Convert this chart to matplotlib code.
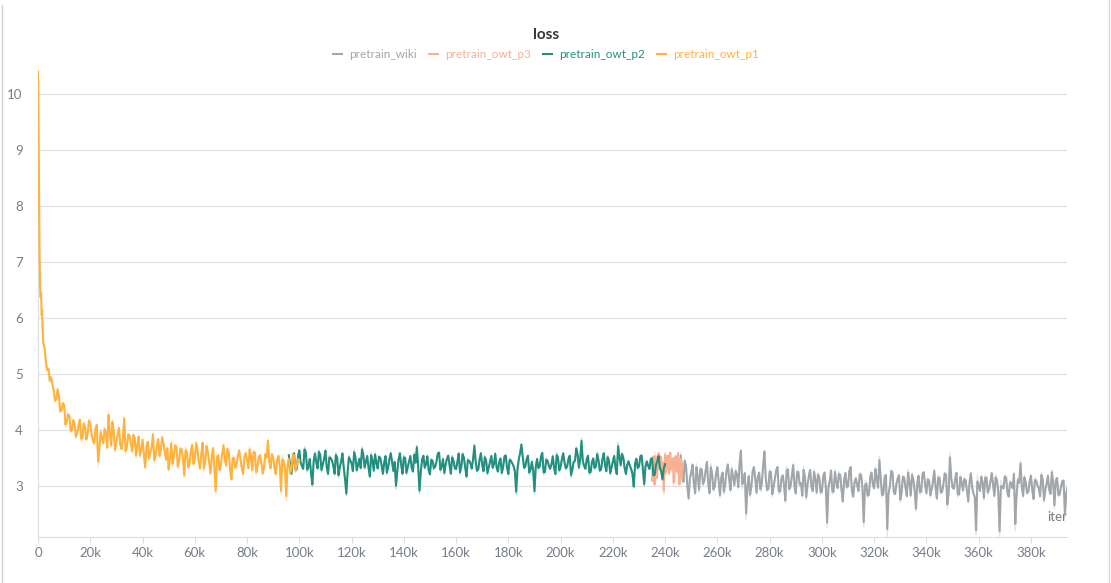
import numpy as np
import matplotlib
matplotlib.use("Agg")
from matplotlib import pyplot as plt

plt.rcParams['font.family'] = ['Lato', 'DejaVu Sans']

# pretrain_owt_p1: fine detail at the start, then logged every 500 iters
p1_early_iter = [0, 200, 400, 600, 800, 1000, 1200, 1400, 1600, 1800, 2000, 2500, 3000, 3500, 4000, 4500]
p1_early_loss = [10.4, 9.3, 8.2, 7.0, 6.5, 6.35, 6.45, 6.0, 6.15, 5.7, 5.55, 5.45, 5.2, 5.05, 5.1, 4.85]
# values at 5k, 6k, ... 100k
p1_loss = [4.95, 4.7, 4.55, 4.6, 4.35, 4.45, 4.15, 4.25, 4.0, 4.1,
           3.95, 4.2, 3.85, 4.05, 3.95, 4.1, 3.8, 4.05, 3.35, 4.0,
           3.75, 3.95, 4.35, 3.7, 3.95, 3.8, 4.05, 3.65, 4.25, 3.7,
           3.9, 3.6, 3.85, 3.75, 3.5, 3.85, 3.3, 3.8, 3.6, 3.95,
           3.55, 3.85, 3.65, 3.75, 3.45, 3.25, 3.8, 3.55, 3.7, 3.45,
           3.65, 3.15, 3.6, 3.4, 3.75, 3.5, 3.65, 3.3, 3.8, 3.45,
           3.6, 3.2, 3.7, 2.85, 3.55, 3.4, 3.75, 3.35, 3.6, 3.1,
           3.5, 3.4, 3.65, 3.3, 3.55, 3.45, 3.7, 3.25, 3.6, 3.35,
           3.55, 3.2, 3.6, 3.85, 3.3, 3.5, 3.2, 3.55, 2.85, 3.45,
           2.75, 3.5, 3.3, 3.55, 3.35, 3.45]
# values at 5.5k, 6.5k, ... 99.5k
p1_loss_mid = [4.8, 4.5, 4.75, 4.3, 4.5, 4.05, 4.3, 3.95, 4.2, 3.85,
               4.1, 3.8, 4.15, 3.8, 4.2, 3.9, 3.75, 4.1, 3.7, 3.85,
               4.05, 3.65, 3.9, 4.2, 3.6, 3.95, 3.7, 3.9, 3.55, 3.95,
               3.75, 3.95, 3.5, 3.9, 3.65, 3.55, 3.75, 3.45, 3.7, 3.4,
               3.75, 3.5, 3.9, 3.6, 3.7, 3.5, 3.35, 3.75, 3.3, 3.7,
               3.45, 3.7, 3.3, 3.65, 3.35, 3.8, 3.4, 3.6, 3.25, 3.75,
               3.4, 3.55, 3.3, 3.6, 3.25, 3.6, 3.45, 3.7, 3.25, 3.55,
               3.3, 3.55, 3.45, 3.2, 3.6, 3.3, 3.5, 3.65, 3.2, 3.55,
               3.4, 3.35, 3.5, 3.4, 3.6, 3.3, 3.5, 3.35, 3.55, 3.3,
               3.45, 3.2, 3.6, 3.25, 3.5]

# pretrain_owt_p2: 96k .. 240k
p2_loss = [3.55, 3.2, 3.6, 3.3, 3.65, 3.35, 3.7, 3.25, 3.5, 3.0,
           3.6, 3.3, 3.55, 3.4, 3.65, 3.2, 3.5, 3.35, 3.6, 3.15,
           3.45, 3.3, 2.83, 3.55, 3.4, 3.65, 3.25, 3.5, 3.7, 3.3,
           3.55, 3.15, 3.45, 3.6, 3.3, 3.5, 3.2, 3.55, 3.35, 3.6,
           3.25, 2.95, 3.5, 3.35, 3.55, 3.2, 3.45, 3.3, 3.6, 3.73,
           2.86, 3.5, 3.3, 3.55, 3.2, 3.45, 3.35, 3.6, 3.25, 3.5,
           3.4, 3.55, 3.2, 3.45, 3.3, 3.6, 3.35, 3.5, 3.15, 3.45,
           3.3, 3.75, 3.25, 3.5, 3.35, 3.55, 3.2, 3.45, 3.3, 3.6,
           3.25, 3.5, 3.35, 3.55, 3.2, 3.45, 3.35, 2.85, 3.5, 3.76,
           3.3, 3.5, 3.2, 3.45, 2.86, 3.5, 3.35, 3.6, 3.25, 3.45,
           3.3, 3.55, 3.2, 3.5, 3.35, 3.6, 3.3, 3.5, 3.15, 3.45,
           3.7, 3.3, 3.85, 3.35, 3.5, 3.2, 3.45, 3.3, 3.6, 3.25,
           3.5, 3.35, 3.55, 3.2, 3.45, 3.3, 3.78, 3.35, 3.5, 3.2,
           3.45, 3.3, 2.96, 3.5, 3.35, 3.55, 3.0, 3.45, 3.3, 3.5,
           3.2, 3.45, 3.3, 3.1, 3.4]
# 96.5k .. 239.5k
p2_loss_mid = [3.35, 3.5, 3.25, 3.55, 3.4, 3.3, 3.6, 3.35, 3.2, 3.5,
               3.4, 3.65, 3.25, 3.5, 3.3, 3.55, 3.45, 3.2, 3.5, 3.35,
               3.6, 3.1, 3.3, 3.45, 3.25, 3.5, 3.4, 3.3, 3.55, 3.45,
               3.3, 3.6, 3.25, 3.4, 3.55, 3.35, 3.45, 3.2, 3.5, 3.4,
               3.45, 3.3, 3.6, 3.2, 3.5, 3.35, 3.55, 3.25, 3.4, 3.3,
               3.3, 3.55, 3.4, 3.25, 3.5, 3.3, 3.45, 3.6, 3.35, 3.2,
               3.5, 3.35, 3.55, 3.3, 3.45, 3.2, 3.6, 3.3, 3.5, 3.4,
               3.5, 3.4, 3.3, 3.6, 3.25, 3.45, 3.35, 3.55, 3.4, 3.3,
               3.45, 3.2, 3.55, 3.3, 3.5, 3.4, 3.25, 3.35, 3.6, 3.5,
               3.35, 3.55, 3.3, 3.25, 3.4, 3.3, 3.55, 3.2, 3.5, 3.35,
               3.4, 3.3, 3.6, 3.25, 3.5, 3.4, 3.35, 3.55, 3.3, 3.45,
               3.55, 3.5, 3.4, 3.3, 3.55, 3.25, 3.5, 3.35, 3.45, 3.3,
               3.6, 3.25, 3.45, 3.35, 3.55, 3.2, 3.5, 3.6, 3.3, 3.4,
               3.35, 3.2, 3.45, 3.3, 3.55, 3.25, 3.4, 3.35, 3.5, 3.15,
               3.4, 3.55, 3.25, 3.35]

# pretrain_owt_p3: 235k .. 246.5k every 500, and the 250-offset values
p3_loss = [3.1, 3.55, 3.0, 3.45, 3.2, 3.6, 3.3, 3.5, 3.15, 2.85,
           3.6, 3.3, 3.55, 3.2, 3.6, 3.35, 3.5, 3.1, 3.55, 3.25,
           3.6, 3.0, 3.5, 3.3]
p3_loss_mid = [3.4, 3.2, 3.6, 3.1, 3.5, 3.3, 3.55, 3.2, 3.45, 3.35,
               3.2, 3.5, 3.4, 3.6, 3.25, 3.5, 3.0, 3.45, 3.3, 3.55,
               3.2, 3.45, 3.1, 3.4]

# pretrain_wiki: 245k .. 394k
wiki_loss = [3.3, 3.6, 3.05, 3.35, 2.75, 3.25, 3.0, 3.4, 2.9, 3.3,
             3.1, 3.45, 2.85, 3.2, 3.0, 3.35, 2.8, 3.25, 3.05, 3.4,
             2.9, 3.15, 3.3, 2.95, 3.66, 3.1, 2.41, 3.2, 3.0, 3.35,
             2.85, 3.25, 3.05, 3.65, 2.9, 3.3, 2.8, 3.15, 3.35, 2.9,
             3.2, 2.7, 3.3, 3.0, 3.4, 2.85, 3.25, 3.05, 3.35, 2.75,
             3.2, 2.95, 3.3, 2.85, 3.15, 2.9, 3.25, 2.26, 3.1, 2.85,
             3.3, 2.95, 3.2, 2.7, 3.25, 3.0, 3.35, 2.8, 3.15, 2.9,
             3.2, 2.27, 3.05, 2.85, 3.25, 2.95, 3.1, 3.53, 2.8, 3.2,
             2.1, 3.0, 3.25, 2.85, 3.15, 2.7, 3.2, 2.95, 3.3, 2.8,
             3.1, 2.55, 3.2, 2.9, 3.25, 2.85, 3.1, 2.95, 3.3, 2.75,
             3.15, 2.9, 3.25, 2.6, 3.6, 2.95, 3.15, 2.8, 3.2, 2.9,
             3.1, 2.7, 3.25, 2.85, 2.13, 3.0, 3.2, 2.75, 3.15, 2.95,
             3.25, 2.8, 3.1, 2.1, 3.0, 3.2, 2.85, 3.1, 2.95, 2.2,
             3.15, 3.45, 2.8, 3.05, 2.9, 3.2, 2.75, 3.1, 2.95, 3.25,
             2.7, 3.05, 2.9, 3.3, 2.6, 3.15, 2.85, 3.1, 2.42, 3.0]
# 245.5k .. 393.5k
wiki_loss_mid = [3.1, 3.25, 3.5, 2.95, 3.2, 3.4, 2.85, 3.15, 3.35, 3.0,
                 3.3, 3.0, 3.4, 2.9, 3.25, 3.05, 3.2, 2.85, 3.3, 3.1,
                 3.35, 3.0, 3.2, 3.45, 2.95, 3.25, 3.05, 2.8, 3.3, 3.1,
                 3.2, 2.9, 3.4, 3.1, 2.95, 3.25, 3.0, 3.3, 2.85, 3.15,
                 3.0, 3.35, 2.9, 3.2, 2.95, 3.3, 3.0, 2.8, 3.15, 3.05,
                 3.3, 2.9, 3.1, 3.25, 2.85, 3.2, 2.95, 3.05, 3.3, 2.9,
                 3.05, 3.25, 2.9, 3.15, 2.95, 3.3, 2.85, 3.1, 3.0, 3.25,
                 2.95, 3.1, 2.8, 3.2, 3.0, 3.35, 2.95, 3.1, 2.85, 3.2,
                 2.95, 3.3, 2.85, 3.05, 3.2, 2.9, 3.15, 2.8, 3.05, 3.25,
                 2.9, 3.1, 2.85, 3.25, 3.0, 3.15, 2.8, 3.1, 2.95, 3.2,
                 2.85, 3.05, 3.2, 2.9, 3.1, 2.95, 3.25, 2.85, 3.05, 3.15,
                 2.9, 3.1, 2.95, 2.8, 3.2, 2.9, 3.05, 3.2, 2.85, 3.1,
                 3.0, 3.2, 2.85, 3.1, 2.95, 3.15, 2.8, 3.05, 3.25, 2.9,
                 3.05, 2.95, 3.2, 2.85, 3.1, 2.9, 3.15, 3.0, 2.8, 3.1,
                 2.95, 3.2, 2.85, 3.05, 3.15, 2.8, 3.0, 3.1, 2.9]


def interleave(a, b):
    out = np.empty(len(a) + len(b))
    out[0::2] = a
    out[1::2] = b
    return out


def ema(vals, w):
    # wandb-like exponential smoothing
    out = []
    last = vals[0]
    for v in vals:
        last = last * w + (1 - w) * v
        out.append(last)
    return np.array(out)


p1_iter = np.concatenate([p1_early_iter, np.arange(5000, 100001, 500)])
p1_vals = np.concatenate([p1_early_loss, interleave(p1_loss, p1_loss_mid)])
p2_iter = np.arange(96000, 240001, 500)
p3_iter = np.arange(235000, 247000, 250)
wiki_iter = np.arange(245000, 394001, 500)

runs = [
    ("pretrain_wiki", wiki_iter, interleave(wiki_loss, wiki_loss_mid), "#a1a6ab"),
    ("pretrain_owt_p3", p3_iter, interleave(p3_loss, p3_loss_mid), "#f9b092"),
    ("pretrain_owt_p2", p2_iter, interleave(p2_loss, p2_loss_mid), "#23907f"),
    ("pretrain_owt_p1", p1_iter, p1_vals, "#ffb23e"),
]

fig = plt.figure(figsize=(11.11, 5.83), dpi=100)
ax = fig.add_axes([38 / 1111, 46 / 583, 1029 / 1111, 467 / 583])

for z, (name, it, loss, col) in enumerate(runs):
    ax.plot(it, loss, color=col, alpha=0.3, lw=1.0, zorder=2 + z)
    ax.plot(it, ema(loss, 0.12), color=col, lw=1.5, zorder=6 + z, label=name)

ax.set_xlim(0, 393800)
ax.set_ylim(2.09, 10.43)
ax.set_yticks(range(3, 11))
ax.set_xticks(np.arange(0, 380001, 20000))
ax.set_xticklabels(["0"] + ["%dk" % (v // 1000) for v in range(20000, 380001, 20000)])
ax.grid(axis='y', color='#e2e2e2', lw=0.9)
ax.set_axisbelow(True)
for s in ['top', 'right']:
    ax.spines[s].set_visible(False)
for s in ['left', 'bottom']:
    ax.spines[s].set_color('#dcdcdc')
ax.tick_params(axis='x', colors='#dcdcdc', labelcolor='#767d87', labelsize=9.5, length=4, pad=3)
ax.tick_params(axis='y', length=0, labelcolor='#767d87', labelsize=9.5, pad=11)
ax.text(1.0, 0.03, "iter", transform=ax.transAxes, ha='right', va='bottom',
        color='#767d87', fontsize=9.5)

fig.text(546 / 1111, 1 - 35 / 583, "loss", ha='center', va='center',
         fontsize=11, fontweight='bold', color='#333333')
fig.legend(loc='center', bbox_to_anchor=(546 / 1111, 1 - 55 / 583), ncol=4,
           frameon=False, handlelength=0.8, handletextpad=0.6, columnspacing=1.0,
           fontsize=8.5, labelcolor='linecolor')

# card border
fig.add_artist(plt.Line2D([1.5 / 1111, 1.5 / 1111], [0, 1 - 5 / 583], color='#d0d0d0', lw=1))
fig.add_artist(plt.Line2D([1109 / 1111, 1109 / 1111], [0, 1], color='#d8d8d8', lw=1))

fig.savefig("out.png", dpi=100)
